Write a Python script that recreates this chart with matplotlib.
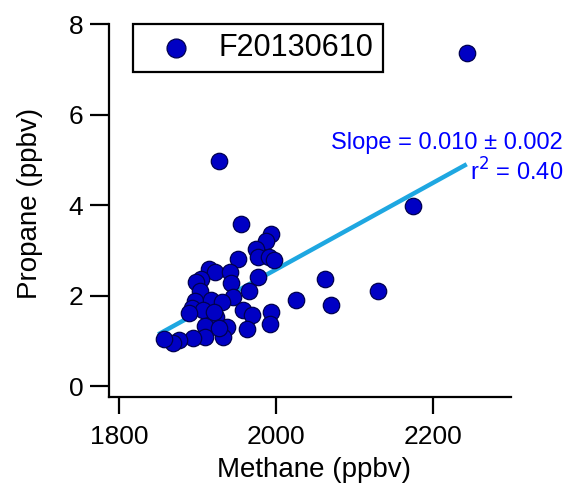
import matplotlib
matplotlib.use("Agg")
import matplotlib.pyplot as plt
import numpy as np

plt.rcParams['font.family'] = ['Liberation Sans', 'DejaVu Sans']

methane = [1956, 1994, 1987, 1975, 1977, 1991, 1998, 1952, 1977, 1915,
           1922, 1941, 1904, 1898, 1943, 1903, 1966, 1945, 1897, 1917,
           1931, 1893, 1907, 1958, 1969, 1994, 1923, 1992, 1963, 1938,
           1909, 1932, 1927, 1909, 1894, 1877, 1869, 1858, 1889, 1921,
           2026, 2062, 2070, 2130, 2174, 2243, 1927]
propane = [3.58, 3.37, 3.20, 3.03, 2.84, 2.85, 2.78, 2.81, 2.41, 2.58,
           2.52, 2.51, 2.36, 2.29, 2.27, 2.09, 2.10, 1.97, 1.87, 1.89,
           1.85, 1.72, 1.68, 1.67, 1.58, 1.63, 1.52, 1.36, 1.27, 1.30,
           1.33, 1.08, 1.28, 1.08, 1.06, 1.01, 0.95, 1.04, 1.62, 1.63,
           1.90, 2.37, 1.78, 2.10, 3.97, 7.36, 4.97]
series_label = "F20130610"

fit_slope = 0.00957
fit_intercept = 1.14 - 0.00957 * 1850
fit_x = [1850, 2243]
slope_text = "Slope = 0.010 ± 0.002"
r2_text = "r$^2$ = 0.40"

xticks = [1800, 2000, 2200]
yticks = [0, 2, 4, 6, 8]

fig = plt.figure(figsize=(5.71, 4.93), dpi=100)
ax = fig.add_axes([109/571, 96/493, 402/571, 373/493])

fx = np.array(fit_x, dtype=float)
ax.plot(fx, fit_slope * fx + fit_intercept, color='#1ea7e1', lw=3.2, zorder=2,
        solid_capstyle='butt')
ax.scatter(methane, propane, s=140, facecolor='#0000c4', edgecolor='#000050',
           linewidth=0.9, zorder=3, label=series_label)

ax.set_xlim(1787.3, 2299.4)
ax.set_ylim(-0.243, 8.0)
ax.set_xticks(xticks)
ax.set_yticks(yticks)
for s in ['top', 'right']:
    ax.spines[s].set_visible(False)
for s in ['left', 'bottom']:
    ax.spines[s].set_linewidth(1.6)
ax.tick_params(axis='y', direction='out', length=13.5, width=1.6, labelsize=19, pad=5)
ax.tick_params(axis='x', direction='out', length=12, width=1.6, labelsize=19, pad=8)

ax.set_xlabel("Methane (ppbv)", fontsize=20)
ax.set_ylabel("Propane (ppbv)", fontsize=20)
ax.xaxis.set_label_coords(0.511, -0.196)
ax.xaxis.label.set_va('center')
ax.yaxis.set_label_coords(-0.197, 0.52)
ax.yaxis.label.set_va('center')

leg = ax.legend(loc='upper left', bbox_to_anchor=(0.06, 1.0), borderaxespad=0,
                fontsize=22, frameon=True, fancybox=False, handletextpad=0.3,
                borderpad=0.3, markerscale=1.15, handlelength=2.2, framealpha=1)
leg.get_frame().set_edgecolor('black')
leg.get_frame().set_linewidth(1.6)

fig.text(563/571, 1 - 143/493, slope_text, color='#0000ff', fontsize=17,
         ha='right', va='center')
fig.text(563/571, 1 - 172/493, r2_text, color='#0000ff', fontsize=17,
         ha='right', va='center')

fig.savefig("out.png", dpi=100)
